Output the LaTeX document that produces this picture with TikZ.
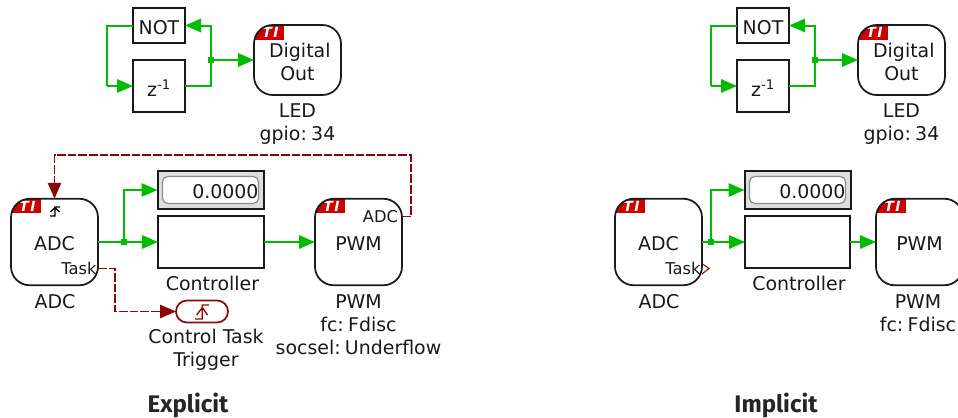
\documentclass[tikz,border=0pt]{standalone}
\usepackage{fontspec}
\setmainfont{DejaVu Sans}
\newfontfamily\titlefont{Fira Sans}
\usetikzlibrary{arrows.meta,calc}
\definecolor{wiregreen}{HTML}{00BB00}
\definecolor{sigred}{HTML}{8A0808}
\definecolor{tired}{HTML}{CC0000}
\definecolor{boxline}{HTML}{1A1A1A}
\newcommand{\wsp}{\spaceskip=0.12em\relax}
\newcommand{\dn}[1]{\raisebox{-1.5pt}[\height][\depth]{#1}}
\tikzset{
  x=0.75pt,y=-0.75pt,
  every node/.style={inner sep=0pt,outer sep=0pt,text=black!90,font=\fontsize{14.2}{17}\selectfont},
  sq/.style={draw=boxline,line width=1.3pt,fill=white,align=center},
  block/.style={sq,minimum width=87*0.75pt,minimum height=86.5*0.75pt,rounded corners=14pt},
  badge/.style={path picture={
    \fill[tired,sharp corners] (path picture bounding box.north west) rectangle ++(30*0.75pt,-14.5*0.75pt);
    \node[text=white,anchor=center,font=\fontsize{10.5}{10}\selectfont\bfseries\itshape] (#1) at ($(path picture bounding box.north west)+(16.5*0.75pt,-7.5*0.75pt)$) {T\hspace{1.2pt}I};
  }},
  lbl/.style={align=center},
  small/.style={font=\fontsize{12.2}{14}\selectfont},
  wire/.style={draw=wiregreen,line width=1.5pt},
  go/.style={wire,-{Triangle[length=12pt,width=10pt,fill=wiregreen]}},
  sig/.style={draw=sigred,line width=1.4pt,dash pattern=on 6.5pt off 1.5pt},
  sigarrow/.style={sig,-{Triangle[length=12pt,width=10pt,fill=sigred]}},
  junction/.style={fill=wiregreen,minimum size=5pt},
  title/.style={font=\fontsize{18}{20}\selectfont\titlefont\bfseries,text=black!85},
  dispout/.style={draw=boxline,line width=1.5pt,fill=black!13,minimum width=106*0.75pt,minimum height=38*0.75pt},
  dispin/.style={draw=black!45,line width=0.9pt,fill=white,rounded corners=4pt,minimum width=96*0.75pt,text width=96*0.75pt,minimum height=27*0.75pt,align=right},
  edgeicon/.style={line width=1pt}
}
\begin{document}
\begin{tikzpicture}
\path[use as bounding box] (0,0) rectangle (958,418);
\clip (0,0) rectangle (958,418);

% ---- top left
\node[sq,minimum width=52*0.75pt,minimum height=35*0.75pt] (not1) at (159,25.5) {\dn{NOT}};
\node[sq,minimum width=52*0.75pt,minimum height=52*0.75pt] (z1) at (159,86) {\dn{z\textsuperscript{-1}}};
\node[block,minimum height=70*0.75pt,badge=ti1] (do1) at (297.5,60) {\hspace*{3.5pt}\dn{Digital}\\\dn{Out}};
\node[junction] (j1) at (211,60) {};
\coordinate (l1) at (106.5,25.5);
\node[lbl,anchor=north] (led1) at (297.5,104) {LED\\{\wsp gpio: 34}};
\draw[go] (z1.west -| l1) -- (z1.west);
\draw[wire] (not1.west) -- (l1) -- (z1.west -| l1);
\draw[go] (z1.east) -| (j1.center) |- (not1.east);
\draw[go] (j1.center) -- (do1.west);

% ---- top right
\node[sq,minimum width=52*0.75pt,minimum height=35*0.75pt] (not2) at (763,25.5) {\dn{NOT}};
\node[sq,minimum width=52*0.75pt,minimum height=52*0.75pt] (z2) at (763,86) {\dn{z\textsuperscript{-1}}};
\node[block,minimum height=70*0.75pt,badge=ti2] (do2) at (901.5,60) {\hspace*{3.5pt}\dn{Digital}\\\dn{Out}};
\node[junction] (j2) at (815,60) {};
\coordinate (l2) at (711,25.5);
\node[lbl,anchor=north] (led2) at (901.5,104) {LED\\{\wsp gpio: 34}};
\draw[go] (z2.west -| l2) -- (z2.west);
\draw[wire] (not2.west) -- (l2) -- (z2.west -| l2);
\draw[go] (z2.east) -| (j2.center) |- (not2.east);
\draw[go] (j2.center) -- (do2.west);

% ---- explicit
\node[block,badge=ti3] (adc1) at (54.5,242) {\dn{ADC}};
\node[small,anchor=east] (task1) at (96.5,268.5) {Task};
\node[lbl] (adcl1) at (55,302) {ADC};
\node[dispout] (dout1) at (210.5,190) {};
\node[dispin] (din1) at (210.5,190) {\dn{0.0000}};
\node[sq,minimum width=106*0.75pt,minimum height=52*0.75pt] (ctl1) at (211,242) {};
\node[lbl] (ctll1) at (212.5,283.5) {Controller};
\node[block,badge=ti4] (pwm1) at (358.5,242) {\dn{PWM}};
\node[small,anchor=east] (adcp) at (398,216.5) {ADC};
\node[lbl,anchor=north] (pwml1) at (358.5,295) {PWM\\{\wsp fc: Fdisc}\\{\wsp socsel: Underflow}};
\node[junction] (j3) at (124,242) {};
\draw[wire] (adc1.east) -- (j3.center);
\draw[go] (j3.center) -- (ctl1.west);
\draw[go] (j3.center) |- (dout1.west);
\draw[go] (ctl1.east) -- (pwm1.west);

\coordinate (soc) at (402,216.5);
\coordinate (soca) at (411,155);
\coordinate (socb) at (54.5,155);
\draw[sigarrow] (soc) -| (soca) -- (socb) -- (adc1.north);

\coordinate (tsk) at (98,268.5);
\coordinate (tskm) at (115,311.5);
\node[draw=sigred,line width=1.3pt,fill=white,minimum width=52*0.75pt,minimum height=22*0.75pt,rounded corners=8.2pt] (trig) at (202,311.5) {};
\draw[sigarrow] (tsk) -| (tskm) -- (trig.west);
\draw[sigred,edgeicon] (195,319) -- (202.3,319) -- (202.3,305) -- (209,305)
  (196.7,315) -- (202.3,307.5) -- (207.5,315);
\node[lbl,anchor=north] (trigl) at (206,329) {Control Task\\Trigger};
\draw[black,edgeicon] (50,216) -- (55,216) -- (55,207) -- (60,207)
  (50.5,212) -- (55,207.5) -- (59.5,212);
\node[title] (t1) at (188,405) {Explicit};

% ---- implicit
\node[block,badge=ti5] (adc2) at (658.5,242) {\dn{ADC}};
\node[small,anchor=east] (task2) at (700.5,268.5) {Task};
\node[lbl] (adcl2) at (659,302) {ADC};
\coordinate (ta) at (702,263.5);
\coordinate (tb) at (709,268.5);
\coordinate (tc) at (702,274);
\draw[sigred,line width=0.8pt,line join=miter] (ta) -- (tb) -- (tc);
\node[dispout] (dout2) at (797.5,190) {};
\node[dispin] (din2) at (797.5,190) {\dn{0.0000}};
\node[sq,minimum width=105*0.75pt,minimum height=52*0.75pt] (ctl2) at (797.5,242) {};
\node[lbl] (ctll2) at (799,283.5) {Controller};
\node[block,badge=ti6] (pwm2) at (919.5,242) {\dn{PWM}};
\node[lbl,anchor=north] (pwml2) at (918,295) {PWM\\{\wsp fc: Fdisc}};
\node[junction] (j4) at (711,242) {};
\draw[wire] (adc2.east) -- (j4.center);
\draw[go] (j4.center) -- (ctl2.west);
\draw[go] (j4.center) |- (dout2.west);
\draw[go] (ctl2.east) -- (pwm2.west);
\node[title] (t2) at (776,405) {Implicit};
\end{tikzpicture}
\end{document}
